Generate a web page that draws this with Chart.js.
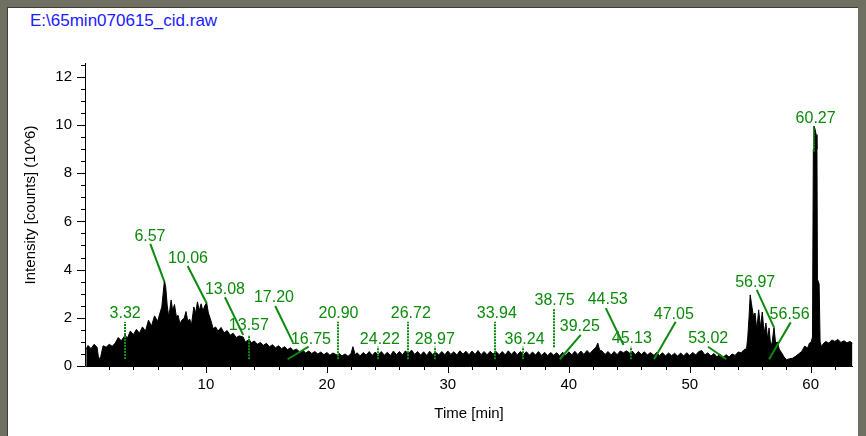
<!DOCTYPE html>
<html>
<head>
<meta charset="utf-8">
<title>E:\65min070615_cid.raw</title>
<script src="https://cdn.jsdelivr.net/npm/chart.js@4.4.1/dist/chart.umd.min.js"></script>
<style>
  html, body { margin: 0; padding: 0; }
  body { width: 866px; height: 436px; background: #6f6f62; position: relative; overflow: hidden; }
  #panel { position: absolute; left: 7px; top: 7px; width: 851px; height: 429px; background: #fff;
           border-top: 1px solid #3c3c3c; border-left: 1px solid #3c3c3c; box-sizing: border-box; }
  #fileName { position: absolute; left: 30px; top: 11px; font: 17px "Liberation Sans", Arial, sans-serif;
              color: #1a1aff; white-space: nowrap; }
  canvas { position: absolute; left: 0; top: 0; }
</style>
</head>
<body>
<div id="panel"></div>
<div id="fileName">E:\65min070615_cid.raw</div>
<canvas id="chrom" width="866" height="436"></canvas>
<script>
// Total ion chromatogram: retention time (min) and intensity (counts x 10^6)
const retentionTime = [
  0.10, 0.25, 0.50, 0.75, 1.00, 1.10, 1.25, 1.40, 1.50, 1.75, 2.00, 2.25, 2.50, 2.75, 3.00, 3.32, 3.50, 3.75,
  4.00, 4.25, 4.50, 4.75, 5.00, 5.25, 5.50, 5.75, 6.00, 6.20, 6.35, 6.45, 6.57, 6.68, 6.80, 6.92, 7.02, 7.12,
  7.25, 7.40, 7.55, 7.70, 7.85, 8.00, 8.20, 8.35, 8.50, 8.65, 8.80, 9.00, 9.15, 9.30, 9.45, 9.60, 9.75, 9.90,
  10.06, 10.20, 10.40, 10.60, 10.80, 11.00, 11.25, 11.50, 11.75, 12.00, 12.25, 12.50, 12.75, 13.08, 13.25, 13.57,
  13.75, 14.00, 14.25, 14.50, 14.75, 15.00, 15.25, 15.50, 15.75, 16.00, 16.25, 16.50, 16.75, 17.00, 17.20, 17.50,
  17.75, 18.00, 18.25, 18.50, 18.75, 19.00, 19.25, 19.50, 19.75, 20.00, 20.25, 20.50, 20.90, 21.00, 21.25, 21.50,
  21.75, 22.00, 22.15, 22.35, 22.50, 22.75, 23.00, 23.25, 23.50, 23.75, 24.00, 24.22, 24.50, 24.75, 25.00, 25.25,
  25.50, 25.75, 26.00, 26.25, 26.50, 26.72, 27.00, 27.25, 27.50, 27.75, 28.00, 28.25, 28.50, 28.75, 28.97, 29.25,
  29.50, 29.75, 30.00, 30.25, 30.50, 30.75, 31.00, 31.25, 31.50, 31.75, 32.00, 32.25, 32.50, 32.75, 33.00, 33.25,
  33.50, 33.75, 33.94, 34.25, 34.50, 34.75, 35.00, 35.25, 35.50, 35.75, 36.00, 36.24, 36.50, 36.75, 37.00, 37.25,
  37.50, 37.75, 38.00, 38.25, 38.50, 38.75, 39.00, 39.25, 39.50, 39.75, 40.00, 40.25, 40.50, 40.75, 41.00, 41.25,
  41.50, 41.75, 42.00, 42.25, 42.40, 42.55, 42.75, 43.00, 43.25, 43.50, 43.75, 44.00, 44.25, 44.53, 44.75, 45.13,
  45.25, 45.50, 45.75, 46.00, 46.25, 46.50, 46.75, 47.05, 47.25, 47.50, 47.75, 48.00, 48.25, 48.50, 48.75, 49.00,
  49.25, 49.50, 49.75, 50.00, 50.25, 50.50, 50.75, 51.00, 51.25, 51.50, 51.75, 52.00, 52.25, 52.50, 52.75, 53.02,
  53.25, 53.50, 53.75, 54.00, 54.25, 54.50, 54.70, 54.80, 54.90, 55.00, 55.10, 55.25, 55.40, 55.55, 55.70, 55.85,
  56.00, 56.15, 56.30, 56.45, 56.56, 56.70, 56.82, 56.97, 57.10, 57.25, 57.40, 57.60, 57.80, 58.00, 58.25, 58.50,
  58.75, 59.00, 59.25, 59.50, 59.75, 59.90, 60.05, 60.15, 60.22, 60.27, 60.35, 60.45, 60.52, 60.56, 60.70, 60.78,
  60.90, 61.00, 61.25, 61.50, 61.75, 62.00, 62.25, 62.50, 62.75, 63.00, 63.25, 63.45
];
const intensity = [
  0.70, 0.85, 0.72, 0.90, 0.78, 0.40, 0.25, 0.62, 0.84, 0.78, 0.90, 0.82, 0.95, 1.18, 1.05, 1.28, 1.15, 1.45,
  1.30, 1.52, 1.36, 1.62, 1.45, 1.90, 1.66, 2.08, 1.85, 2.20, 2.45, 2.95, 3.55, 3.25, 2.50, 2.05, 2.35, 2.74,
  2.30, 2.55, 2.05, 2.10, 1.75, 1.90, 1.98, 2.26, 1.85, 1.95, 1.70, 2.45, 2.20, 2.66, 2.30, 2.58, 2.28, 2.50,
  2.62, 2.20, 1.90, 1.55, 1.62, 1.45, 1.60, 1.38, 1.47, 1.28, 1.36, 1.18, 1.25, 1.20, 1.00, 1.10,
  0.96, 1.04, 0.90, 0.98, 0.86, 0.94, 0.80, 0.88, 0.76, 0.84, 0.72, 0.80, 0.68, 0.76, 0.64, 0.70,
  0.58, 0.66, 0.54, 0.62, 0.52, 0.60, 0.50, 0.58, 0.47, 0.56, 0.45, 0.54, 0.44, 0.52, 0.42, 0.50,
  0.40, 0.52, 0.80, 0.46, 0.55, 0.42, 0.56, 0.45, 0.60, 0.44, 0.58, 0.46, 0.60, 0.45, 0.57, 0.43,
  0.62, 0.47, 0.60, 0.46, 0.63, 0.50, 0.66, 0.48, 0.60, 0.45, 0.59, 0.44, 0.61, 0.47, 0.58, 0.46,
  0.60, 0.47, 0.62, 0.48, 0.59, 0.46, 0.63, 0.49, 0.61, 0.47, 0.62, 0.48, 0.64, 0.47, 0.60, 0.46,
  0.61, 0.49, 0.62, 0.47, 0.60, 0.46, 0.63, 0.48, 0.61, 0.46, 0.60, 0.47, 0.59, 0.45, 0.58, 0.46,
  0.60, 0.44, 0.57, 0.43, 0.56, 0.45, 0.55, 0.42, 0.57, 0.44, 0.59, 0.46, 0.61, 0.47, 0.62, 0.48,
  0.64, 0.52, 0.66, 0.78, 0.95, 0.66, 0.62, 0.48, 0.60, 0.46, 0.60, 0.47, 0.62, 0.55, 0.63, 0.50,
  0.62, 0.47, 0.60, 0.48, 0.59, 0.46, 0.56, 0.44, 0.56, 0.43, 0.55, 0.42, 0.54, 0.43, 0.53, 0.41,
  0.54, 0.42, 0.55, 0.44, 0.56, 0.46, 0.60, 0.64, 0.46, 0.55, 0.41, 0.52, 0.38, 0.50, 0.36, 0.47,
  0.37, 0.50, 0.44, 0.58, 0.55, 0.68, 0.72, 1.20, 2.00, 2.95, 2.60, 2.10, 2.20, 1.50, 2.33, 1.60,
  2.24, 1.35, 1.78, 1.10, 1.58, 0.80, 1.00, 1.60, 0.95, 1.00, 0.70, 0.55, 0.37, 0.26, 0.30, 0.32,
  0.40, 0.50, 0.60, 0.82, 0.75, 0.95, 1.00, 1.20, 9.00, 9.95, 9.85, 9.60, 9.00, 3.60, 3.40, 1.00,
  0.80, 0.90, 1.02, 0.95, 1.08, 1.02, 1.10, 0.98, 1.05, 0.96, 1.02, 0.95
];

// Axis ranges and tick labels
const timeRange = [0, 63.5];
const intensityRange = [0, 12.57];
const timeTicks = [10, 20, 30, 40, 50, 60];
const intensityTicks = [0, 2, 4, 6, 8, 10, 12];

// Peak annotations (retention times)
const peakLabels = ['3.32', '6.57', '10.06', '13.08', '13.57', '17.20', '16.75', '20.90', '24.22', '26.72',
  '28.97', '33.94', '36.24', '38.75', '39.25', '44.53', '45.13', '47.05', '53.02', '56.97', '56.56', '60.27'];

// Where each annotation's leader line starts/ends and where its text sits, in axis units
const labelLayout = [
  { from: 0.29, to: [3.32, 1.83],  text: [3.32, 1.99] },
  { from: 3.49, to: [5.40, 5.07],  text: [5.37, 5.19] },
  { from: 2.60, to: [8.49, 4.15],  text: [8.51, 4.28] },
  { from: 1.29, to: [11.57, 2.85], text: [11.57, 2.99] },
  { from: 0.28, to: [13.57, 1.29], text: [13.55, 1.50] },
  { from: 0.97, to: [15.73, 2.49], text: [15.62, 2.66] },
  { from: 0.28, to: [18.49, 0.80], text: [18.68, 0.91] },
  { from: 0.28, to: [20.90, 1.84], text: [20.96, 1.99] },
  { from: 0.28, to: [24.22, 0.80], text: [24.38, 0.91] },
  { from: 0.28, to: [26.72, 1.84], text: [26.94, 1.99] },
  { from: 0.28, to: [28.97, 0.80], text: [28.93, 0.91] },
  { from: 0.28, to: [33.94, 1.84], text: [34.05, 1.99] },
  { from: 0.28, to: [36.24, 0.80], text: [36.34, 0.91] },
  { from: 0.78, to: [38.75, 2.35], text: [38.82, 2.53] },
  { from: 0.28, to: [40.99, 1.29], text: [40.91, 1.47] },
  { from: 0.87, to: [43.06, 2.40], text: [43.22, 2.57] },
  { from: 0.28, to: [45.13, 0.80], text: [45.21, 0.96] },
  { from: 0.28, to: [48.84, 1.84], text: [48.68, 1.95] },
  { from: 0.28, to: [51.51, 0.80], text: [51.53, 0.96] },
  { from: 1.60, to: [55.54, 3.16], text: [55.41, 3.28] },
  { from: 0.28, to: [58.35, 1.81], text: [58.26, 1.95] },
  { from: 8.90, to: [60.27, 9.91], text: [60.41, 10.09] }
];

const FONT = '"Liberation Sans", Arial, sans-serif';
const PEAK_GREEN = '#0b8a0b';

const decorations = {
  id: 'decorations',
  afterDatasetsDraw(chart) {
    const { ctx, chartArea: a, scales: { x, y } } = chart;
    ctx.save();

    // axis lines
    ctx.strokeStyle = '#000';
    ctx.lineWidth = 1;
    ctx.beginPath();
    ctx.moveTo(a.left + 0.5, a.top);
    ctx.lineTo(a.left + 0.5, a.bottom + 0.5);
    ctx.lineTo(a.right, a.bottom + 0.5);
    ctx.stroke();

    // tick marks: majors longer, minors shorter
    ctx.beginPath();
    for (let v = 0; v <= 12.5; v += 0.5) {
      const py = Math.round(y.getPixelForValue(v)) + 0.5;
      const len = (v % 2 === 0) ? 8 : 4;
      ctx.moveTo(a.left - len, py);
      ctx.lineTo(a.left, py);
    }
    for (let v = 2; v <= 62; v += 2) {
      const px = Math.round(x.getPixelForValue(v)) + 0.5;
      const len = (v % 10 === 0) ? 7 : 4;
      ctx.moveTo(px, a.bottom);
      ctx.lineTo(px, a.bottom + len);
    }
    ctx.stroke();

    // axis titles
    ctx.fillStyle = '#000';
    ctx.font = '15px ' + FONT;
    ctx.textAlign = 'center';
    ctx.textBaseline = 'middle';
    ctx.fillText('Time [min]', (a.left + a.right) / 2, 414);
    ctx.save();
    ctx.translate(31, 205);
    ctx.rotate(-Math.PI / 2);
    ctx.fillText('Intensity [counts] (10^6)', 0, 0);
    ctx.restore();

    // peak labels, then their leader lines
    ctx.fillStyle = PEAK_GREEN;
    ctx.font = '16px ' + FONT;
    ctx.textBaseline = 'alphabetic';
    peakLabels.forEach((lab, i) => {
      const L = labelLayout[i];
      ctx.fillText(lab, x.getPixelForValue(L.text[0]), y.getPixelForValue(L.text[1]));
    });
    ctx.strokeStyle = PEAK_GREEN;
    ctx.lineWidth = 2;
    peakLabels.forEach((lab, i) => {
      const L = labelLayout[i];
      const rt = parseFloat(lab);
      const vertical = L.to[0] === rt;
      let x0 = x.getPixelForValue(rt), x1 = x.getPixelForValue(L.to[0]);
      if (vertical) { x0 = x1 = Math.round(x0); }
      ctx.setLineDash(vertical ? [2, 1] : []);
      ctx.beginPath();
      ctx.moveTo(x0, y.getPixelForValue(L.from));
      ctx.lineTo(x1, y.getPixelForValue(L.to[1]));
      ctx.stroke();
    });
    ctx.restore();
  }
};

new Chart(document.getElementById('chrom'), {
  type: 'line',
  data: {
    datasets: [{
      data: retentionTime.map((t, i) => ({ x: t, y: intensity[i] })),
      borderColor: '#000',
      backgroundColor: '#000',
      borderWidth: 1,
      pointRadius: 0,
      tension: 0,
      fill: 'origin'
    }]
  },
  options: {
    responsive: false,
    animation: false,
    devicePixelRatio: 1,
    layout: { padding: { left: 0, top: 63, right: 13, bottom: 0 } },
    plugins: { legend: { display: false }, tooltip: { enabled: false } },
    scales: {
      x: {
        type: 'linear',
        min: timeRange[0],
        max: timeRange[1],
        afterBuildTicks: s => { s.ticks = timeTicks.map(v => ({ value: v })); },
        afterFit: s => { s.height = 70; },
        grid: { drawOnChartArea: false, color: 'rgba(0,0,0,0)', tickLength: 7 },
        border: { display: false },
        ticks: { color: '#000', font: { family: FONT, size: 15 }, padding: 3, maxRotation: 0, autoSkip: false }
      },
      y: {
        type: 'linear',
        min: intensityRange[0],
        max: intensityRange[1],
        afterBuildTicks: s => { s.ticks = intensityTicks.map(v => ({ value: v })); },
        afterFit: s => { s.width = 85; },
        grid: { drawOnChartArea: false, color: 'rgba(0,0,0,0)', tickLength: 8 },
        border: { display: false },
        ticks: { color: '#000', font: { family: FONT, size: 15 }, padding: 5 }
      }
    }
  },
  plugins: [decorations]
});
</script>
</body>
</html>
